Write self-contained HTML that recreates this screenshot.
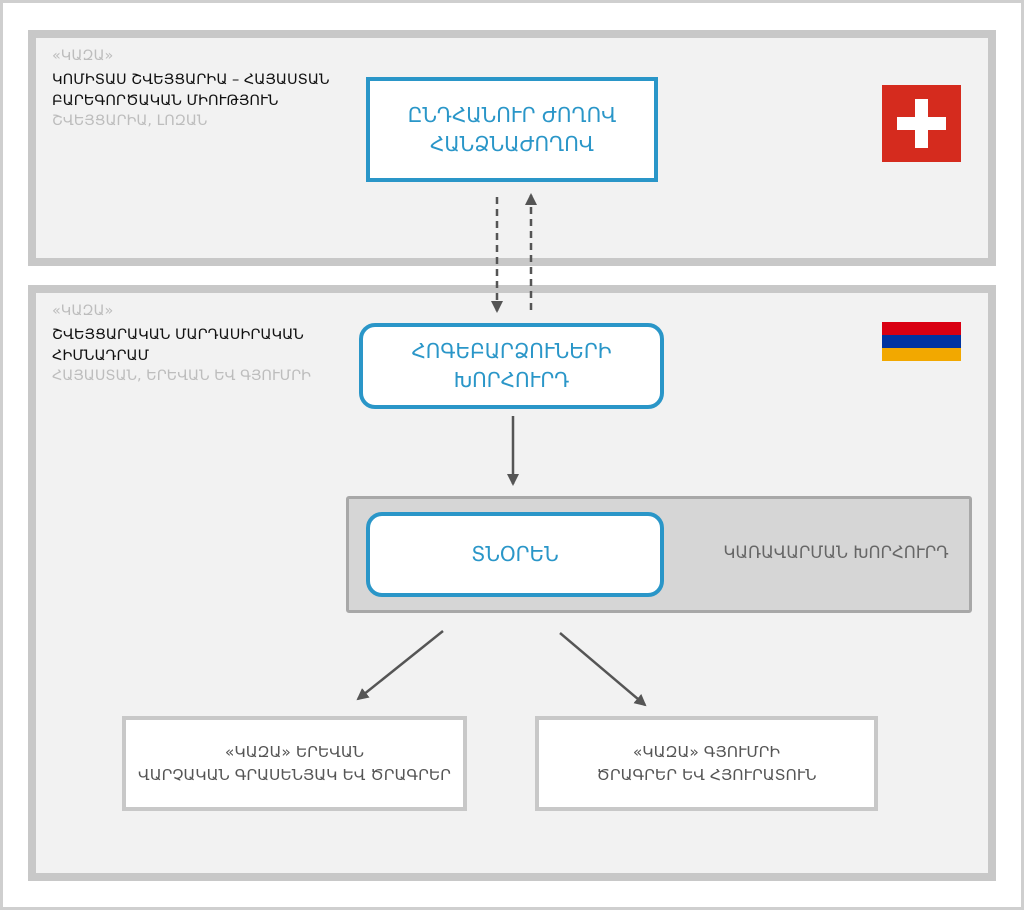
<!DOCTYPE html>
<html><head><meta charset="utf-8"><style>
body{margin:0;width:1024px;height:910px;background:#fff;position:relative;font-family:"DejaVu Sans","Liberation Sans",sans-serif;overflow:hidden}
.a{position:absolute;box-sizing:border-box;white-space:nowrap}
.panel{background:#f2f2f2;border:8px solid #c8c8c8}
.g{color:#bdbdbd;font-size:14.4px}
.b{color:#111;font-size:14.5px;line-height:21px}
.blue{border:4px solid #2a96c8;background:#fff;color:#2a96c8;font-size:20px;display:flex;align-items:center;justify-content:center;text-align:center;line-height:29px}
.wb{border:4px solid #c8c8c8;background:#fff;color:#555;font-size:15.5px;display:flex;align-items:center;justify-content:center;text-align:center;line-height:23px}
</style></head><body>
<div class="a" style="left:0;top:0;width:1024px;height:910px;border:3px solid #cfcfcf"></div>
<div class="a panel" style="left:28px;top:30px;width:968px;height:236px"></div>
<div class="a panel" style="left:28px;top:285px;width:968px;height:596px"></div>

<div class="a g" style="left:52px;top:48px">«ԿԱԶԱ»</div>
<div class="a b" style="left:52px;top:70px">ԿՈՄԻՏԱՍ ՇՎԵՅՑԱՐԻԱ – ՀԱՅԱՍՏԱՆ<br>ԲԱՐԵԳՈՐԾԱԿԱՆ ՄԻՈՒԹՅՈՒՆ</div>
<div class="a g" style="left:52px;top:113px">ՇՎԵՅՑԱՐԻԱ, ԼՈԶԱՆ</div>

<div class="a g" style="left:52px;top:303px">«ԿԱԶԱ»</div>
<div class="a b" style="left:52px;top:325px">ՇՎԵՅՑԱՐԱԿԱՆ ՄԱՐԴԱՍԻՐԱԿԱՆ<br>ՀԻՄՆԱԴՐԱՄ</div>
<div class="a g" style="left:52px;top:368px">ՀԱՅԱՍՏԱՆ, ԵՐԵՎԱՆ ԵՎ ԳՅՈՒՄՐԻ</div>

<div class="a blue" style="left:366px;top:77px;width:292px;height:105px">ԸՆԴՀԱՆՈՒՐ ԺՈՂՈՎ<br>ՀԱՆՁՆԱԺՈՂՈՎ</div>
<div class="a blue" style="left:359px;top:323px;width:305px;height:86px;border-radius:16px">ՀՈԳԵԲԱՐՁՈՒՆԵՐԻ<br>ԽՈՐՀՈՒՐԴ</div>
<div class="a" style="left:346px;top:496px;width:626px;height:117px;background:#d6d6d6;border:3px solid #a8a8a8;border-radius:3px"></div>
<div class="a" style="left:680px;top:543px;width:312px;text-align:center;color:#666;font-size:16.5px">ԿԱՌԱՎԱՐՄԱՆ ԽՈՐՀՈՒՐԴ</div>
<div class="a blue" style="left:366px;top:512px;width:298px;height:85px;border-radius:16px">ՏՆՕՐԵՆ</div>

<div class="a wb" style="left:122px;top:716px;width:345px;height:95px">«ԿԱԶԱ» ԵՐԵՎԱՆ<br>ՎԱՐՉԱԿԱՆ ԳՐԱՍԵՆՅԱԿ ԵՎ ԾՐԱԳՐԵՐ</div>
<div class="a wb" style="left:535px;top:716px;width:343px;height:95px">«ԿԱԶԱ» ԳՅՈՒՄՐԻ<br>ԾՐԱԳՐԵՐ ԵՎ ՀՅՈՒՐԱՏՈՒՆ</div>

<div class="a" style="left:882px;top:85px;width:79px;height:77px;background:#d52b1e"></div>
<div class="a" style="left:915px;top:99px;width:13px;height:49px;background:#fff"></div>
<div class="a" style="left:897px;top:117px;width:49px;height:13px;background:#fff"></div>

<div class="a" style="left:882px;top:322px;width:79px;height:13px;background:#d90012"></div>
<div class="a" style="left:882px;top:335px;width:79px;height:13px;background:#0033a0"></div>
<div class="a" style="left:882px;top:348px;width:79px;height:13px;background:#f2a800"></div>

<svg class="a" style="left:0;top:0" width="1024" height="910">
<defs><marker id="m" markerWidth="12" markerHeight="12" refX="10" refY="6" orient="auto" markerUnits="userSpaceOnUse"><path d="M0,0 L12,6 L0,12 z" fill="#555"/></marker></defs>
<g stroke="#555" stroke-width="2.5" fill="none">
<line x1="497" y1="197" x2="497" y2="311" stroke-dasharray="7,5" marker-end="url(#m)"/>
<line x1="531" y1="310" x2="531" y2="195" stroke-dasharray="7,5" marker-end="url(#m)"/>
<line x1="513" y1="416" x2="513" y2="484" marker-end="url(#m)"/>
<line x1="443" y1="631" x2="358" y2="699" marker-end="url(#m)"/>
<line x1="560" y1="633" x2="645" y2="705" marker-end="url(#m)"/>
</g></svg>
</body></html>
